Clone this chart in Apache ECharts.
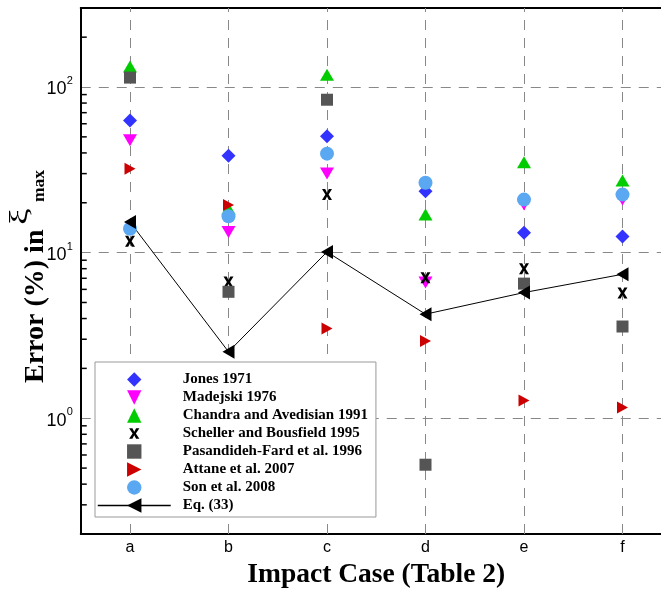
<!DOCTYPE html>
<html>
<head>
<meta charset="utf-8">
<script src="https://cdn.jsdelivr.net/npm/echarts@6/dist/echarts.min.js"></script>
<style>
  html, body { margin: 0; padding: 0; background: #fff; }
  #chart { width: 661px; height: 595px; }
</style>
</head>
<body>
<div id="chart"></div>
<script>
// Impact cases (Table 2)
const cases = ['a', 'b', 'c', 'd', 'e', 'f'];

// Error (%) in xi_max for each correlation
const jones      = [62.7, 38.5, 50.4, 23.5, 13.2, 12.5];
const madejski   = [47.7, 13.3, 30.0, 6.6, 19.5, 20.9];
const chandra    = [133, 18.5, 118.6, 17.0, 35.1, 27.3];
const scheller   = [11.7, 6.65, 22.4, 7.06, 8.0, 5.7];
const pasandideh = [114, 5.8, 83.8, 0.524, 6.5, 3.58];
const attane     = [32.1, 19.4, 3.48, 2.93, 1.28, 1.16];
const son        = [13.95, 16.6, 39.6, 26.4, 20.9, 22.4];
const eq33       = [15.3, 2.52, 10.1, 4.25, 5.74, 7.4];

// Log-axis minor tick values
const yMinorTicks = [0.3, 0.4, 0.5, 0.6, 0.7, 0.8, 0.9,
                     2, 3, 4, 5, 6, 7, 8, 9,
                     20, 30, 40, 50, 60, 70, 80, 90, 200];

// Bold "x" marker; the leading moves pad its box so the glyph stays small in the legend
const crossPath = 'path://M-2,-2 M12,12 M0,0 L3.2,0 L5,3.2 L6.8,0 L10,0 L6.6,5 L10,10 L6.8,10 L5,6.8 L3.2,10 L0,10 L3.4,5 Z';

function markers(name, data, symbol, size, rotate, color) {
  return {
    name: name,
    type: 'line',
    data: data,
    symbol: symbol,
    symbolSize: size,
    symbolRotate: rotate,
    showSymbol: true,
    showAllSymbol: true,
    lineStyle: { width: 0 },
    itemStyle: { color: color, borderWidth: 0 },
    emphasis: { disabled: true },
    silent: true
  };
}

const chart = echarts.init(document.getElementById('chart'), null, { renderer: 'canvas' });

const serifBold = { fontFamily: 'Liberation Serif', fontWeight: 'bold', color: '#000' };

// Vertical axis title, written bottom-to-top: "Error (%) in ξ" with a "max" subscript
function titlePart(text, x, y, size, weight, stretch) {
  return {
    type: 'text',
    x: x, y: y,
    rotation: Math.PI / 2,
    scaleX: stretch || 1,
    silent: true,
    style: {
      text: text,
      fontFamily: 'Liberation Serif',
      fontSize: size,
      fontWeight: weight,
      fill: '#000',
      align: 'left',
      verticalAlign: 'middle'
    }
  };
}

chart.setOption({
  backgroundColor: '#fff',
  animation: false,
  textStyle: { fontFamily: 'Liberation Sans', color: '#000' },
  grid: {
    left: 80.75, right: -10.75, top: 8, bottom: 61,
    containLabel: false, outerBoundsMode: 'none'
  },
  graphic: [
    titlePart('Error (%) in', 35.5, 383, 28, 'bold'),
    titlePart('ξ', 20, 225, 25, 'normal', 1.5),
    titlePart('max', 39, 202, 17.5, 'bold')
  ],
  legend: {
    orient: 'vertical',
    left: 95, top: 362,
    itemWidth: 73, itemHeight: 18, itemGap: 3,
    padding: [10, 8, 4, 2],
    borderColor: '#999', borderWidth: 1,
    backgroundColor: '#fff',
    selectedMode: false,
    textStyle: Object.assign({ fontSize: 15, padding: [0, 0, 0, 7] }, serifBold),
    data: [
      'Jones 1971',
      'Madejski 1976',
      'Chandra and Avedisian 1991',
      'Scheller and Bousfield 1995',
      'Pasandideh-Fard et al. 1996',
      'Attane et al. 2007',
      'Son et al. 2008',
      { name: 'Eq. (33)', lineStyle: { width: 1.5 } }
    ]
  },
  xAxis: [
    {
      type: 'category',
      data: cases,
      position: 'bottom',
      boundaryGap: true,
      axisLine: { lineStyle: { color: '#000', width: 2 } },
      axisTick: { inside: true, alignWithLabel: true, length: 11, lineStyle: { color: '#000', width: 2 } },
      axisLabel: { fontFamily: 'Liberation Sans', fontSize: 16, color: '#000', margin: 6 },
      splitLine: { show: false },
      name: 'Impact Case (Table 2)',
      nameLocation: 'middle',
      nameGap: 23,
      nameTextStyle: Object.assign({ fontSize: 27.5 }, serifBold)
    },
    {
      type: 'category',
      data: cases,
      position: 'top',
      boundaryGap: true,
      axisLine: { lineStyle: { color: '#000', width: 2 } },
      axisTick: { inside: true, alignWithLabel: true, length: 8, lineStyle: { color: '#000', width: 2 } },
      axisLabel: { show: false },
      splitLine: { show: false }
    }
  ],
  yAxis: {
    type: 'log',
    logBase: 10,
    min: 0.2,
    max: 300,
    axisLine: { show: true, lineStyle: { color: '#000', width: 2 } },
    axisTick: { inside: true, length: 10, lineStyle: { color: '#000', width: 2 } },
    minorTick: { show: false },
    splitLine: { show: true, lineStyle: { color: '#888', width: 1, type: [10, 8] } },
    axisLabel: {
      margin: 8,
      formatter: function (v) {
        const p = Math.log10(v);
        if (Math.abs(p - Math.round(p)) > 1e-6) return '';
        return '{b|10}{e|' + Math.round(p) + '}';
      },
      rich: {
        b: { fontFamily: 'Liberation Sans', fontSize: 18, lineHeight: 23, verticalAlign: 'bottom', color: '#000' },
        e: { fontFamily: 'Liberation Sans', fontSize: 11, lineHeight: 11, verticalAlign: 'top', color: '#000' }
      }
    }
  },
  series: [
    {
      // minor ticks of the log axis and the vertical dashed case lines
      name: 'axis-decor',
      type: 'custom',
      silent: true,
      data: yMinorTicks.map(function (v) { return [0, v]; }),
      renderItem: function (params, api) {
        const y = api.coord([0, api.value(1)])[1];
        const x0 = params.coordSys.x;
        return {
          type: 'line',
          shape: { x1: x0, y1: y, x2: x0 + 6, y2: y },
          style: { stroke: '#000', lineWidth: 1.5 }
        };
      },
      markLine: {
        silent: true,
        z: 1,
        symbol: 'none',
        label: { show: false },
        lineStyle: { color: '#888', width: 1, type: [10, 8] },
        data: cases.map(function (c) { return { xAxis: c }; })
      }
    },
    markers('Jones 1971', jones, 'diamond', [14, 14], 0, '#3333ff'),
    markers('Madejski 1976', madejski, 'triangle', [14, 12], 180, '#ff00ff'),
    markers('Chandra and Avedisian 1991', chandra, 'triangle', [14, 12], 0, '#00cc00'),
    markers('Scheller and Bousfield 1995', scheller, crossPath, [14, 15.4], 0, '#000000'),
    markers('Pasandideh-Fard et al. 1996', pasandideh, 'rect', [12, 12], 0, '#555555'),
    markers('Attane et al. 2007', attane, 'triangle', [12, 11], -90, '#cc0000'),
    markers('Son et al. 2008', son, 'circle', 14, 0, '#5aa8f2'),
    {
      name: 'Eq. (33)',
      type: 'line',
      data: eq33,
      symbol: 'triangle',
      symbolSize: [14, 12],
      symbolRotate: 90,
      showSymbol: true,
      lineStyle: { color: '#000', width: 1 },
      itemStyle: { color: '#000', borderWidth: 0 },
      emphasis: { disabled: true },
      silent: true
    }
  ]
});
</script>
</body>
</html>
